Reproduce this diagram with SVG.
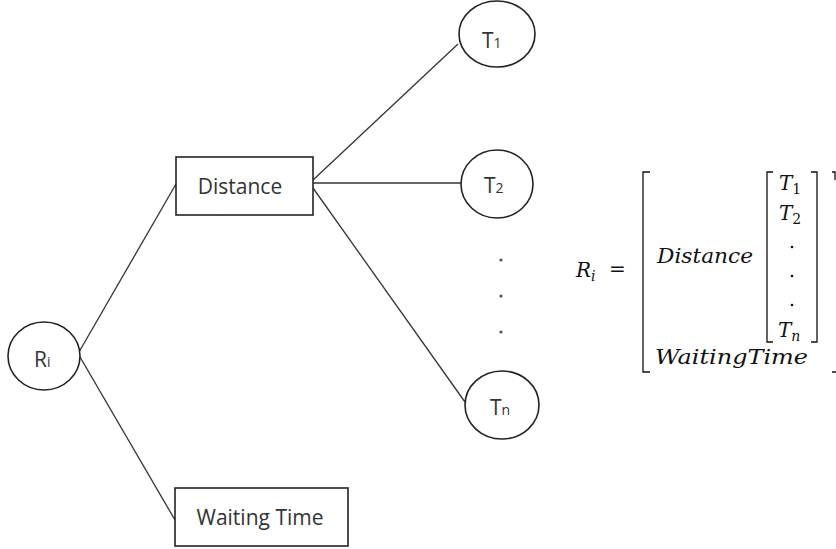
<svg xmlns="http://www.w3.org/2000/svg" width="836" height="549" viewBox="0 0 836 549">
<style>
.n{fill:#fff;stroke:#222;stroke-width:1.6}
.e{stroke:#333;stroke-width:1.3;fill:none}
.t{font-family:"Open Sans","Noto Sans",sans-serif;font-size:21px;fill:#333}
.s{font-size:14px}
.m{font-family:"DejaVu Serif","Liberation Serif",serif;font-style:italic;font-size:20px;fill:#111}
.mr{font-family:"DejaVu Serif","Liberation Serif",serif;font-size:20px;fill:#111}
.ms{font-size:14px}
.up{font-style:normal}
.b{stroke:#111;stroke-width:1.3;fill:none}
.dot{fill:#555}
</style>
<rect width="836" height="549" fill="#fff"/>
<g id="connectors">
<line class="e" x1="79" y1="352" x2="176" y2="184"/>
<line class="e" x1="80" y1="357" x2="175" y2="520"/>
<line class="e" x1="313" y1="180" x2="458" y2="44"/>
<line class="e" x1="313" y1="183" x2="461" y2="183"/>
<line class="e" x1="313" y1="188" x2="465" y2="402"/>
</g>
<g id="node-Ri">
<ellipse class="n" cx="44" cy="356" rx="36" ry="34"/>
<text class="t" x="34" y="367">R<tspan class="s">i</tspan></text>
</g>
<g id="node-distance">
<rect class="n" x="176" y="157" width="137" height="58"/>
<text class="t" x="240" y="194" text-anchor="middle">Distance</text>
</g>
<g id="node-waiting">
<rect class="n" x="175" y="488" width="173" height="58"/>
<text class="t" x="260" y="525" text-anchor="middle">Waiting Time</text>
</g>
<g id="node-T1">
<ellipse class="n" cx="497" cy="34" rx="38" ry="33"/>
<text class="t" x="482" y="48">T<tspan class="s">1</tspan></text>
</g>
<g id="node-T2">
<ellipse class="n" cx="497" cy="184" rx="36" ry="34"/>
<text class="t" x="484" y="193">T<tspan class="s">2</tspan></text>
</g>
<g id="node-Tn">
<ellipse class="n" cx="502" cy="405" rx="37" ry="34"/>
<text class="t" x="490" y="415">T<tspan class="s">n</tspan></text>
</g>
<g id="dots">
<circle class="dot" cx="501" cy="260" r="1.6"/>
<circle class="dot" cx="501" cy="296" r="1.6"/>
<circle class="dot" cx="501" cy="332" r="1.6"/>
</g>
<g id="matrix">
<text class="m" x="576" y="277">R<tspan class="ms" dy="4">i</tspan></text>
<text class="mr" x="609" y="276">=</text>
<path class="b" d="M650 172H643V372H650"/>
<path class="b" d="M832 172H835V180M832 372H836"/>
<text class="m" x="657" y="263" textLength="96" lengthAdjust="spacingAndGlyphs">Distance</text>
<path class="b" d="M773 172H767V342H773"/>
<path class="b" d="M811 172H817V342H811"/>
<text class="m" x="779" y="190">T<tspan class="ms up" dy="4">1</tspan></text>
<text class="m" x="779" y="220">T<tspan class="ms up" dy="4">2</tspan></text>
<circle cx="792" cy="247" r="1.3" fill="#111"/>
<circle cx="792" cy="276" r="1.3" fill="#111"/>
<circle cx="792" cy="305" r="1.3" fill="#111"/>
<text class="m" x="778" y="337">T<tspan class="ms" dy="4">n</tspan></text>
<text class="m" x="655" y="364" textLength="153" lengthAdjust="spacingAndGlyphs">WaitingTime</text>
</g>
</svg>
